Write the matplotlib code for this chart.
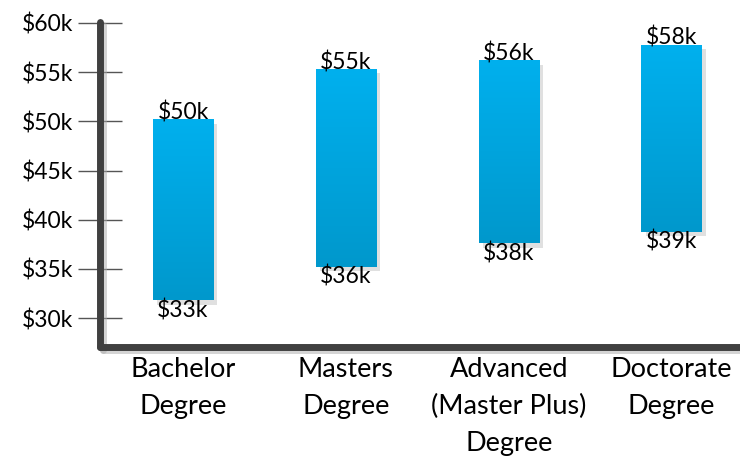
import numpy as np
import matplotlib
matplotlib.use("Agg")
import matplotlib.pyplot as plt
import matplotlib.patheffects as pe

# salary ranges by degree (in $k)
categories = ["Bachelor\nDegree", "Masters\nDegree", "Advanced\n(Master Plus)\nDegree", "Doctorate\nDegree"]
low_vals = [31.8, 35.2, 37.6, 38.8]
high_vals = [50.2, 55.3, 56.2, 57.8]
low_labels = ["$33k", "$36k", "$38k", "$39k"]
high_labels = ["$50k", "$55k", "$56k", "$58k"]
yticks = [30, 35, 40, 45, 50, 55, 60]
ytick_labels = ["$30k", "$35k", "$40k", "$45k", "$50k", "$55k", "$60k"]

plt.rcParams['font.family'] = ['Lato', 'DejaVu Sans']

fig = plt.figure(figsize=(7.4, 4.58), dpi=100)
ax = fig.add_axes([0.135, 0.242, 0.865, 0.71])

x = np.arange(len(categories))
width = 0.37
shadow = [pe.SimplePatchShadow(offset=(3, -3), shadow_rgbFace="#999999", alpha=0.3), pe.Normal()]

# vertical gradient for the bars
grad = np.linspace(0, 1, 256).reshape(-1, 1)
cmap = matplotlib.colors.LinearSegmentedColormap.from_list("blues", ["#0098CC", "#00B0EE"])

for xi, lo, hi in zip(x, low_vals, high_vals):
    bar = ax.bar(xi, hi - lo, bottom=lo, width=width, color="#00A6E0", zorder=2)[0]
    bar.set_path_effects(shadow)
    im = ax.imshow(grad, extent=(xi - width / 2, xi + width / 2, lo, hi), origin="lower",
                   cmap=cmap, aspect="auto", zorder=3)
    im.set_clip_path(bar)

for xi, lo, hi, ll, hl in zip(x, low_vals, high_vals, low_labels, high_labels):
    ax.text(xi, hi - 0.4, hl, ha="center", va="bottom", fontsize=16.5, color="black", zorder=4)
    ax.text(xi, lo + 0.1, ll, ha="center", va="top", fontsize=16.5, color="black", zorder=4)

ax.set_xlim(-0.51, 3.42)
ax.set_ylim(27.05, 60.1)
ax.set_yticks(yticks)
ax.set_yticklabels(ytick_labels, fontsize=16.5)
ax.tick_params(axis="y", direction="inout", length=32, width=1, color="#555555", pad=3)
ax.set_xticks(x)
ax.set_xticklabels(categories, fontsize=19.5, linespacing=1.6)
ax.tick_params(axis="x", length=0, pad=7)

for s in ["top", "right"]:
    ax.spines[s].set_visible(False)
for s in ["left", "bottom"]:
    ax.spines[s].set_linewidth(5)
    ax.spines[s].set_color("#404040")
    ax.spines[s].set_capstyle("round")
    ax.spines[s].set_path_effects([pe.SimpleLineShadow(offset=(2, -2), shadow_color="#aaaaaa", alpha=0.5), pe.Normal()])

fig.savefig("out.png", dpi=100)
